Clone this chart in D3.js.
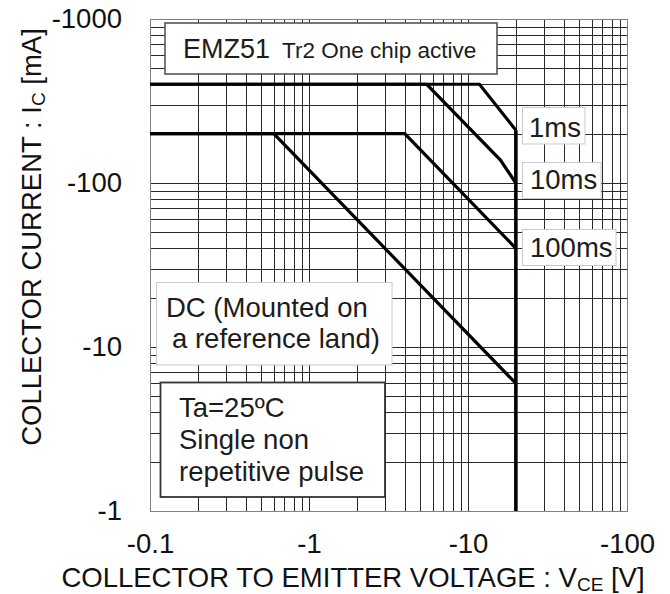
<!DOCTYPE html>
<html>
<head>
<meta charset="utf-8">
<script src="https://cdn.jsdelivr.net/npm/d3@7/dist/d3.min.js"></script>
<style>
  html, body { margin: 0; padding: 0; background: #fff; }
  svg { display: block; font-family: "Liberation Sans", Arial, Helvetica, sans-serif; }
</style>
</head>
<body>
<svg id="chart" width="670" height="594"></svg>
<script>
// Safe operating area, magnitudes (V in volts, I in mA); axis labels carry the sign.
const xTicks = [0.1, 1, 10, 100];
const yTicks = [1, 10, 100, 1000];

const pulse1msV  = [0.1, 11.8, 20];
const pulse1msI  = [400, 400, 210];
const pulse10msV = [0.1, 5.5, 16, 20];
const pulse10msI = [400, 400, 138, 100];
const pulse100msV = [0.1, 4, 20];
const pulse100msI = [200, 200, 40];
const dcV = [0.1, 0.6, 20];
const dcI = [200, 200, 6];
const vceoV = [20, 20];
const vceoI = [210, 1];

const svg = d3.select("#chart");
const L = 150, R = 627, T = 19, B = 511;
const FS = 27.5;

const x = d3.scaleLog().domain([0.1, 100]).range([L, R]);
const y = d3.scaleLog().domain([1, 1000]).range([B, T]);

// minor + major grid values for each decade
const gridX = [];
for (const d of [0.1, 1, 10]) for (let k = 1; k <= 9; k++) gridX.push(d * k);
gridX.push(100);
const gridY = [];
for (const d of [1, 10, 100]) for (let k = 1; k <= 9; k++) gridY.push(d * k);
gridY.push(1000);

const grid = svg.append("g").attr("class", "grid");
grid.selectAll("line.v").data(gridX.filter(v => v > 0.1 + 1e-9 && v < 100 - 1e-9)).join("line")
  .attr("class", "v")
  .attr("x1", d => Math.round(x(d)) + 0.5).attr("x2", d => Math.round(x(d)) + 0.5)
  .attr("y1", T).attr("y2", B)
  .attr("stroke", "#2a2a2a").attr("stroke-width", 1);
grid.selectAll("line.h").data(gridY.filter(v => v > 1 + 1e-9 && v < 1000 - 1e-9)).join("line")
  .attr("class", "h")
  .attr("y1", d => Math.round(y(d)) + 0.5).attr("y2", d => Math.round(y(d)) + 0.5)
  .attr("x1", L).attr("x2", R)
  .attr("stroke", "#2a2a2a").attr("stroke-width", 1);

// frame
svg.append("rect")
  .attr("x", L + 0.5).attr("y", T + 0.5)
  .attr("width", R - L).attr("height", B - T)
  .attr("fill", "none").attr("stroke", "#808080").attr("stroke-width", 1);

// curves
const line = d3.line().x(d => x(d[0])).y(d => y(d[1]));
const series = [
  [pulse1msV, pulse1msI],
  [pulse10msV, pulse10msI],
  [pulse100msV, pulse100msI],
  [dcV, dcI]
];
const curves = svg.append("g").attr("class", "curves");
series.forEach(([vs, is]) => {
  curves.append("path")
    .datum(vs.map((v, i) => [v, is[i]]))
    .attr("d", line)
    .attr("fill", "none").attr("stroke", "#000")
    .attr("stroke-width", 3.2).attr("stroke-linejoin", "miter");
});
curves.append("path")
  .datum(vceoV.map((v, i) => [v, vceoI[i]]))
  .attr("d", line)
  .attr("fill", "none").attr("stroke", "#000").attr("stroke-width", 3.6);

// annotation boxes
const txtColor = "#1c1c1c";
function box(bx, by, bw, bh, stroke, sw) {
  svg.append("rect").attr("x", bx).attr("y", by).attr("width", bw).attr("height", bh)
    .attr("fill", "#fff").attr("stroke", stroke).attr("stroke-width", sw);
}
function label(tx, ty, str, size) {
  return svg.append("text").attr("x", tx).attr("y", ty)
    .attr("font-size", size).attr("fill", txtColor).text(str);
}

box(165, 23, 332, 51, "#555", 1.6);
const t1 = svg.append("text").attr("x", 183).attr("y", 58).attr("fill", txtColor);
t1.append("tspan").attr("font-size", 27).text("EMZ51");
t1.append("tspan").attr("font-size", 22.5).attr("dx", 12).text("Tr2 One chip active");

box(522.5, 107.5, 62.5, 36.5, "#c8c8c8", 1);
label(529, 137, "1ms", FS);
box(522.5, 162.5, 78.5, 36, "#c8c8c8", 1);
label(530, 189, "10ms", FS);
box(522.5, 229.5, 93.5, 36, "#c8c8c8", 1);
label(530, 257, "100ms", FS);

box(156.5, 282.5, 235.5, 82.5, "#c8c8c8", 1);
label(166, 317, "DC (Mounted on", FS);
label(172, 348, "a reference land)", FS);

box(160.5, 382.5, 224.5, 114.5, "#333", 1.8);
label(179, 417, "Ta=25ºC", FS);
label(179, 449, "Single non", FS);
label(179, 481, "repetitive pulse", FS);

// axes (labels only)
const fmt = d => "-" + d3.format("~g")(d);
const xAxis = svg.append("g").attr("transform", `translate(0,${B})`)
  .call(d3.axisBottom(x).tickValues(xTicks).tickFormat(fmt).tickSize(0).tickPadding(22));
const yAxis = svg.append("g").attr("transform", `translate(${L},0)`)
  .call(d3.axisLeft(y).tickValues(yTicks).tickFormat(fmt).tickSize(0).tickPadding(28));
[xAxis, yAxis].forEach(a => {
  a.select(".domain").remove();
  a.selectAll("text").attr("font-size", FS)
    .attr("font-family", "\"Liberation Sans\", Arial, sans-serif").attr("fill", "#111");
});

// axis titles
const xt = svg.append("text").attr("x", 353).attr("y", 587)
  .attr("text-anchor", "middle").attr("font-size", FS).attr("fill", "#111");
xt.append("tspan").text("COLLECTOR TO EMITTER VOLTAGE : V");
xt.append("tspan").attr("font-size", 19).attr("dy", 4).text("CE");
xt.append("tspan").attr("dy", -4).text(" [V]");

const yt = svg.append("text")
  .attr("transform", "translate(41,237) rotate(-90)")
  .attr("text-anchor", "middle").attr("font-size", FS).attr("fill", "#111");
yt.append("tspan").text("COLLECTOR CURRENT : I");
yt.append("tspan").attr("font-size", 19).attr("dy", 4).text("C");
yt.append("tspan").attr("dy", -4).text(" [mA]");
</script>
</body>
</html>
